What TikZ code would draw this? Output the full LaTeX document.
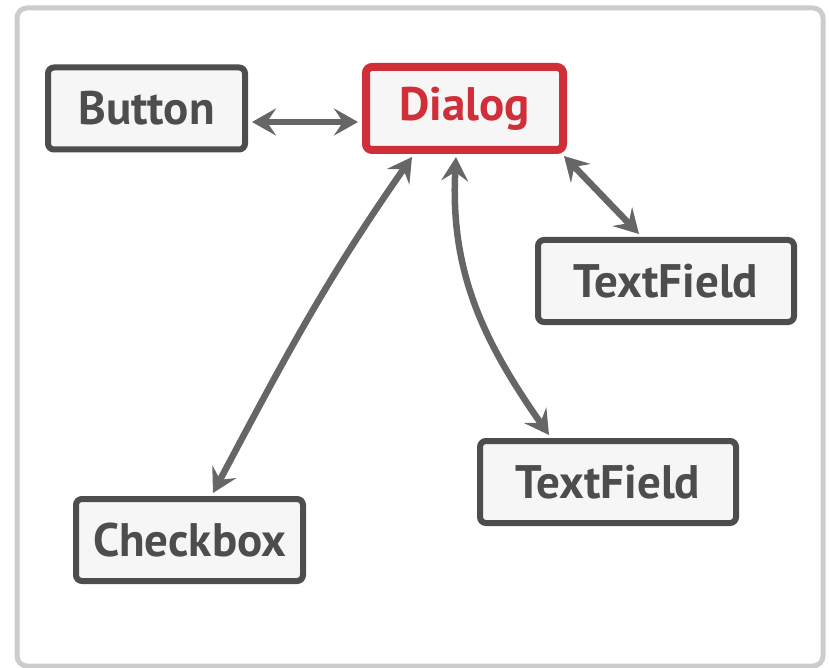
\documentclass[tikz,border=0pt]{standalone}
\usepackage{fontspec}
\setmainfont{PT Sans}
\usepackage{tikz}
\usetikzlibrary{arrows.meta}

\definecolor{boxline}{RGB}{77,77,77}
\definecolor{boxfill}{RGB}{246,246,246}
\definecolor{dialogred}{RGB}{208,46,56}
\definecolor{linkgray}{RGB}{102,102,102}
\definecolor{framegray}{RGB}{204,204,204}

\tikzset{
  widget/.style={draw=boxline,fill=boxfill,line width=6pt,rounded corners=6pt,
    text=boxline,font=\fontsize{47}{47}\selectfont\bfseries,minimum height=82pt},
  link/.style={draw=linkgray,line width=6.5pt,
    {Stealth[length=24pt,width=27pt,inset=9pt]}-{Stealth[length=24pt,width=27pt,inset=9pt]}}
}

\begin{document}
\begin{tikzpicture}[x=1pt,y=-1pt]
  \useasboundingbox (0,0) rectangle (829,668);
  \draw[framegray,line width=5pt,rounded corners=10pt](17,8) rectangle (823,666);

  \node at(146.5,108.5)[widget,minimum width=197pt](button){Button};
  \node at(464.5,108.5)[widget,draw=dialogred,text=dialogred,line width=8pt,minimum width=197pt,minimum height=83pt](dialog){Dialog};
  \node at(666,281)[widget,minimum width=256pt](fieldone){TextField};
  \node at(608,482)[widget,minimum width=256pt](fieldtwo){TextField};
  \node at(189.5,540)[widget,minimum width=227pt](checkbox){Checkbox};

  \draw [link]([yshift=-13.5pt,xshift=4pt]button.east) -- ([yshift=-13.5pt,xshift=-4pt]dialog.west);
  \draw [link]([xshift=-3pt,yshift=-2pt]dialog.south east) -- ([xshift=-27pt,yshift=3pt]fieldone.north);
  \draw [link]([xshift=-52.5pt,yshift=-3pt]dialog.south) to[out=-125,in=62] ([xshift=23.5pt,yshift=3pt]checkbox.north);
  \draw [link]([xshift=-8.5pt,yshift=-3pt]dialog.south) to[out=-93,in=125] ([xshift=-59pt,yshift=3pt]fieldtwo.north);
\end{tikzpicture}
\end{document}
